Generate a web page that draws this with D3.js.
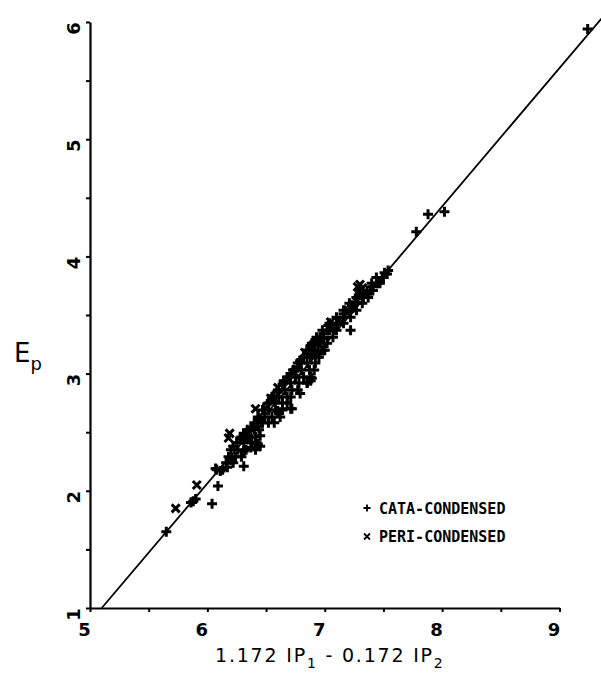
<!DOCTYPE html>
<html>
<head>
<meta charset="utf-8">
<script src="https://cdn.jsdelivr.net/npm/d3@7"></script>
<style>
  body { margin: 0; background: #fff; }
  svg { display: block; }
</style>
</head>
<body>
<svg id="chart" width="601" height="688"></svg>
<script>
// cata-condensed (+) points, [x, Ep]
const cataPoints = [
  [9.24, 5.94], [8.02, 4.38], [7.88, 4.36], [7.78, 4.21],
  [7.54, 3.88], [7.53, 3.85], [7.51, 3.86], [7.49, 3.82], [7.47, 3.79], [7.45, 3.77],
  [7.41, 3.74], [7.39, 3.71], [7.36, 3.68], [7.33, 3.65],
  [7.30, 3.69], [7.29, 3.67], [7.28, 3.64], [7.26, 3.61], [7.23, 3.58], [7.24, 3.56],
  [7.22, 3.54], [7.16, 3.51],
  [7.22, 3.37], [7.13, 3.45], [7.11, 3.43], [7.07, 3.39], [7.03, 3.41], [7.02, 3.37],
  [6.99, 3.34], [6.96, 3.31], [6.94, 3.28], [6.90, 3.26],
  [6.88, 3.22], [6.85, 3.20], [6.99, 3.30], [6.88, 3.24],
  [6.94, 3.20], [6.96, 3.17], [7.00, 3.20], [6.88, 3.14], [6.90, 3.17], [6.82, 3.14],
  [6.79, 3.11], [6.77, 3.09], [6.77, 3.05], [6.73, 3.03], [6.71, 3.00], [6.68, 2.97],
  [6.85, 2.92], [6.88, 2.94], [6.89, 2.96], [6.79, 2.83], [6.72, 2.70], [6.71, 2.70],
  [6.65, 2.94], [6.64, 2.91], [6.60, 2.84], [6.56, 2.81], [6.51, 2.74], [6.60, 2.68],
  [6.64, 2.70],
  [6.47, 2.58], [6.45, 2.62], [6.43, 2.60], [6.39, 2.54], [6.37, 2.53],
  [6.34, 2.51], [6.31, 2.49], [6.28, 2.45], [6.45, 2.47],
  [6.32, 2.47], [6.30, 2.44], [6.22, 2.38], [6.31, 2.34],
  [6.37, 2.37], [6.43, 2.40], [6.45, 2.38],
  [6.21, 2.28], [6.20, 2.26], [6.17, 2.20], [6.31, 2.21], [6.11, 2.17],
  [6.07, 2.19],
  [6.09, 2.04], [6.04, 1.89], [5.90, 1.93], [5.88, 1.91], [5.86, 1.90], [5.65, 1.65],
  // dense band, read row by row
  [7.44, 3.82], [7.50, 3.82], [7.40, 3.77], [7.47, 3.77],
  [7.31, 3.71], [7.36, 3.71], [7.41, 3.71],
  [7.27, 3.65], [7.32, 3.65], [7.37, 3.65],
  [7.21, 3.60], [7.27, 3.60], [7.32, 3.60],
  [7.16, 3.54], [7.21, 3.54], [7.27, 3.54],
  [7.10, 3.48], [7.16, 3.48], [7.22, 3.48],
  [7.04, 3.43], [7.10, 3.43], [7.16, 3.43],
  [6.98, 3.37], [7.04, 3.37], [7.10, 3.37],
  [6.93, 3.31], [6.99, 3.31], [7.07, 3.31],
  [6.89, 3.26], [6.95, 3.26], [7.02, 3.26],
  [6.85, 3.20], [6.91, 3.20], [6.98, 3.20],
  [6.82, 3.14], [6.88, 3.14], [6.95, 3.14],
  [6.79, 3.09], [6.85, 3.09], [6.92, 3.09],
  [6.74, 3.03], [6.80, 3.03], [6.87, 3.03], [6.91, 3.03],
  [6.70, 2.97], [6.75, 2.97], [6.82, 2.97], [6.88, 2.97],
  [6.65, 2.92], [6.71, 2.92], [6.78, 2.92], [6.85, 2.92],
  [6.60, 2.86], [6.66, 2.86], [6.72, 2.86], [6.77, 2.86],
  [6.55, 2.80], [6.61, 2.80], [6.68, 2.80], [6.71, 2.80],
  [6.52, 2.75], [6.58, 2.75], [6.64, 2.75], [6.68, 2.75],
  [6.47, 2.69], [6.52, 2.69], [6.58, 2.69], [6.64, 2.69],
  [6.43, 2.63], [6.49, 2.63], [6.55, 2.63], [6.62, 2.63],
  [6.40, 2.58], [6.46, 2.58], [6.52, 2.58], [6.57, 2.58],
  [6.34, 2.52], [6.40, 2.52], [6.44, 2.52],
  [6.29, 2.46], [6.35, 2.46], [6.41, 2.46],
  [6.25, 2.41], [6.31, 2.41], [6.38, 2.41], [6.41, 2.41],
  [6.20, 2.35], [6.26, 2.35], [6.33, 2.35], [6.41, 2.35],
  [6.18, 2.29], [6.24, 2.29], [6.29, 2.29],
  [6.16, 2.24], [6.22, 2.24],
  [6.08, 2.18], [6.13, 2.18]
];

// peri-condensed (x) points
const periPoints = [
  [5.73, 1.85], [5.91, 2.05], [6.19, 2.49], [6.18, 2.45], [6.41, 2.70],
  [7.28, 3.74], [7.30, 3.76], [7.32, 3.73], [6.54, 2.79], [6.60, 2.88],
  [6.83, 3.18], [7.05, 3.44], [6.94, 3.26], [7.19, 3.52], [6.50, 2.70],
  [6.74, 3.01], [6.35, 2.45], [7.20, 3.54], [6.57, 2.78]
];

const xTicks = [5, 5.5, 6, 6.5, 7, 7.5, 8, 8.5, 9];
const yTicks = [1, 1.5, 2, 2.5, 3, 3.5, 4, 4.5, 5, 5.5, 6];
const fitLine = [[5.10, 1.0], [9.40, 6.08]];
const legendItems = ["CATA-CONDENSED", "PERI-CONDENSED"];

const svg = d3.select("#chart");

const x = d3.scaleLinear().domain([5, 9]).range([90, 559.5]);
const y = d3.scaleLinear().domain([1, 6]).range([608, 22]);

const plusPath = "M-5,0H5M0,-5V5";
const crossPath = "M-4,-4L4,4M-4,4L4,-4";

// x axis
const xAxisG = svg.append("g")
  .attr("transform", `translate(0,${y(1)})`)
  .call(d3.axisBottom(x)
    .tickValues(xTicks)
    .tickSize(4)
    .tickSizeOuter(0)
    .tickFormat(d => Number.isInteger(d) ? d : ""));

xAxisG.select(".domain").attr("stroke-width", 2.2);
xAxisG.selectAll(".tick line").attr("stroke-width", 2);
xAxisG.selectAll(".tick text")
  .attr("y", 28)
  .attr("dy", 0)
  .attr("dx", -6)
  .style("font-family", "DejaVu Sans")
  .style("font-weight", "bold")
  .style("font-size", "18px")
  .attr("fill", "#000");

// y axis
const yAxisG = svg.append("g")
  .attr("transform", `translate(${x(5)},0)`)
  .call(d3.axisLeft(y)
    .tickValues(yTicks)
    .tickSize(4)
    .tickSizeOuter(0)
    .tickFormat(d => Number.isInteger(d) ? d : ""));

yAxisG.select(".domain").attr("stroke-width", 2.2);
yAxisG.selectAll(".tick line").attr("stroke-width", 2);
yAxisG.selectAll(".tick text")
  .attr("x", 0)
  .attr("y", 0)
  .attr("dy", "0.36em")
  .attr("text-anchor", "middle")
  .attr("transform", "translate(-16,6) rotate(-90)")
  .style("font-family", "DejaVu Sans")
  .style("font-weight", "bold")
  .style("font-size", "18px")
  .attr("fill", "#000");

// regression line
svg.append("path")
  .datum(fitLine)
  .attr("fill", "none")
  .attr("stroke", "#000")
  .attr("stroke-width", 1.8)
  .attr("d", d3.line().x(d => x(d[0])).y(d => y(d[1])));

// points
svg.append("g").selectAll("path")
  .data(cataPoints)
  .join("path")
  .attr("transform", d => `translate(${x(d[0])},${y(d[1])})`)
  .attr("d", plusPath)
  .attr("stroke", "#000")
  .attr("stroke-width", 3)
  .attr("fill", "none");

svg.append("g").selectAll("path")
  .data(periPoints)
  .join("path")
  .attr("transform", d => `translate(${x(d[0])},${y(d[1])})`)
  .attr("d", crossPath)
  .attr("stroke", "#000")
  .attr("stroke-width", 3)
  .attr("fill", "none");

// legend
const legend = svg.append("g").attr("transform", "translate(367,508)");
const legendRow = legend.selectAll("g")
  .data(legendItems)
  .join("g")
  .attr("transform", (d, i) => `translate(0,${i * 28.5})`);

legendRow.append("path")
  .attr("d", (d, i) => i === 0 ? "M-3.5,0H3.5M0,-3.5V3.5" : "M-3,-3L3,3M-3,3L3,-3")
  .attr("stroke", "#000")
  .attr("stroke-width", 1.8);

legendRow.append("text")
  .attr("x", 12)
  .attr("y", 5.5)
  .style("font-family", "DejaVu Sans Mono")
  .style("font-weight", "bold")
  .style("font-size", "15px")
  .text(d => d);

// axis titles
const yTitle = svg.append("text")
  .attr("x", 14)
  .attr("y", 362)
  .style("font-family", "DejaVu Sans")
  .style("font-size", "26px");
yTitle.append("tspan").text("E");
yTitle.append("tspan").attr("dy", 8).style("font-size", "18px").text("p");

const xTitle = svg.append("text")
  .attr("x", 215)
  .attr("y", 662)
  .style("font-family", "DejaVu Sans")
  .style("font-size", "19px")
  .style("letter-spacing", "1.8px");
xTitle.append("tspan").text("1.172 IP");
xTitle.append("tspan").attr("dy", 6).style("font-size", "14px").text("1");
xTitle.append("tspan").attr("dy", -6).text(" - 0.172 IP");
xTitle.append("tspan").attr("dy", 6).style("font-size", "14px").text("2");
</script>
</body>
</html>
